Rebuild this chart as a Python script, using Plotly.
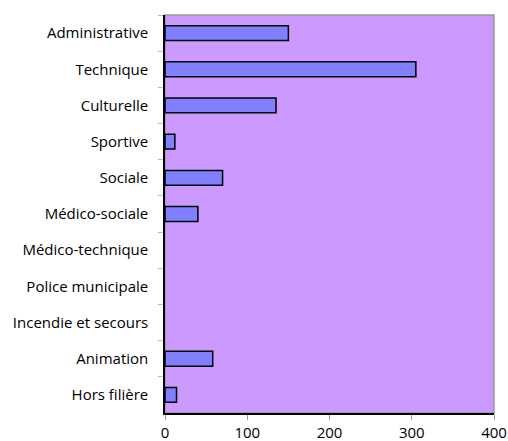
import plotly.graph_objects as go

categories = ["Administrative", "Technique", "Culturelle", "Sportive", "Sociale",
              "Médico-sociale", "Médico-technique", "Police municipale",
              "Incendie et secours", "Animation", "Hors filière"]
values = [150, 305, 135, 12, 70, 40, 0, 0, 0, 58, 14]
x_ticks = [0, 100, 200, 300, 400]

line_widths = [1.5 if v > 0 else 0 for v in values]

fig = go.Figure(go.Bar(
    y=categories, x=values, orientation="h",
    marker=dict(color="#8080FF", line=dict(color="#000000", width=line_widths)),
    width=0.41,
))

font = dict(family="Open Sans, sans-serif", size=15, color="#000000")

fig.update_layout(
    width=508, height=441,
    margin=dict(l=165, r=14, t=15, b=28, autoexpand=False),
    paper_bgcolor="#FFFFFF", plot_bgcolor="#CC99FF",
    showlegend=False, font=font,
    shapes=[dict(type="rect", xref="paper", yref="paper", x0=0, x1=1, y0=0, y1=1,
                 line=dict(color="#999999", width=1.5), layer="below")],
)
fig.update_xaxes(range=[0, 400], tickvals=x_ticks, showgrid=False, zeroline=False,
                 showline=True, linecolor="#000000", linewidth=1.5, automargin=False,
                 ticks="outside", ticklen=5, tickcolor="#999999", fixedrange=True)
fig.update_yaxes(categoryorder="array", categoryarray=categories, autorange="reversed",
                 showgrid=False, showline=True, linecolor="#000000", linewidth=1.5,
                 automargin=False,
                 ticks="outside", ticklen=5, tickcolor="#BBBBBB", tickson="boundaries",
                 ticklabelstandoff=12)

fig.write_html("out.html", config={"displayModeBar": False},
               post_script="document.body.style.margin='0';document.body.style.overflow='hidden';")
